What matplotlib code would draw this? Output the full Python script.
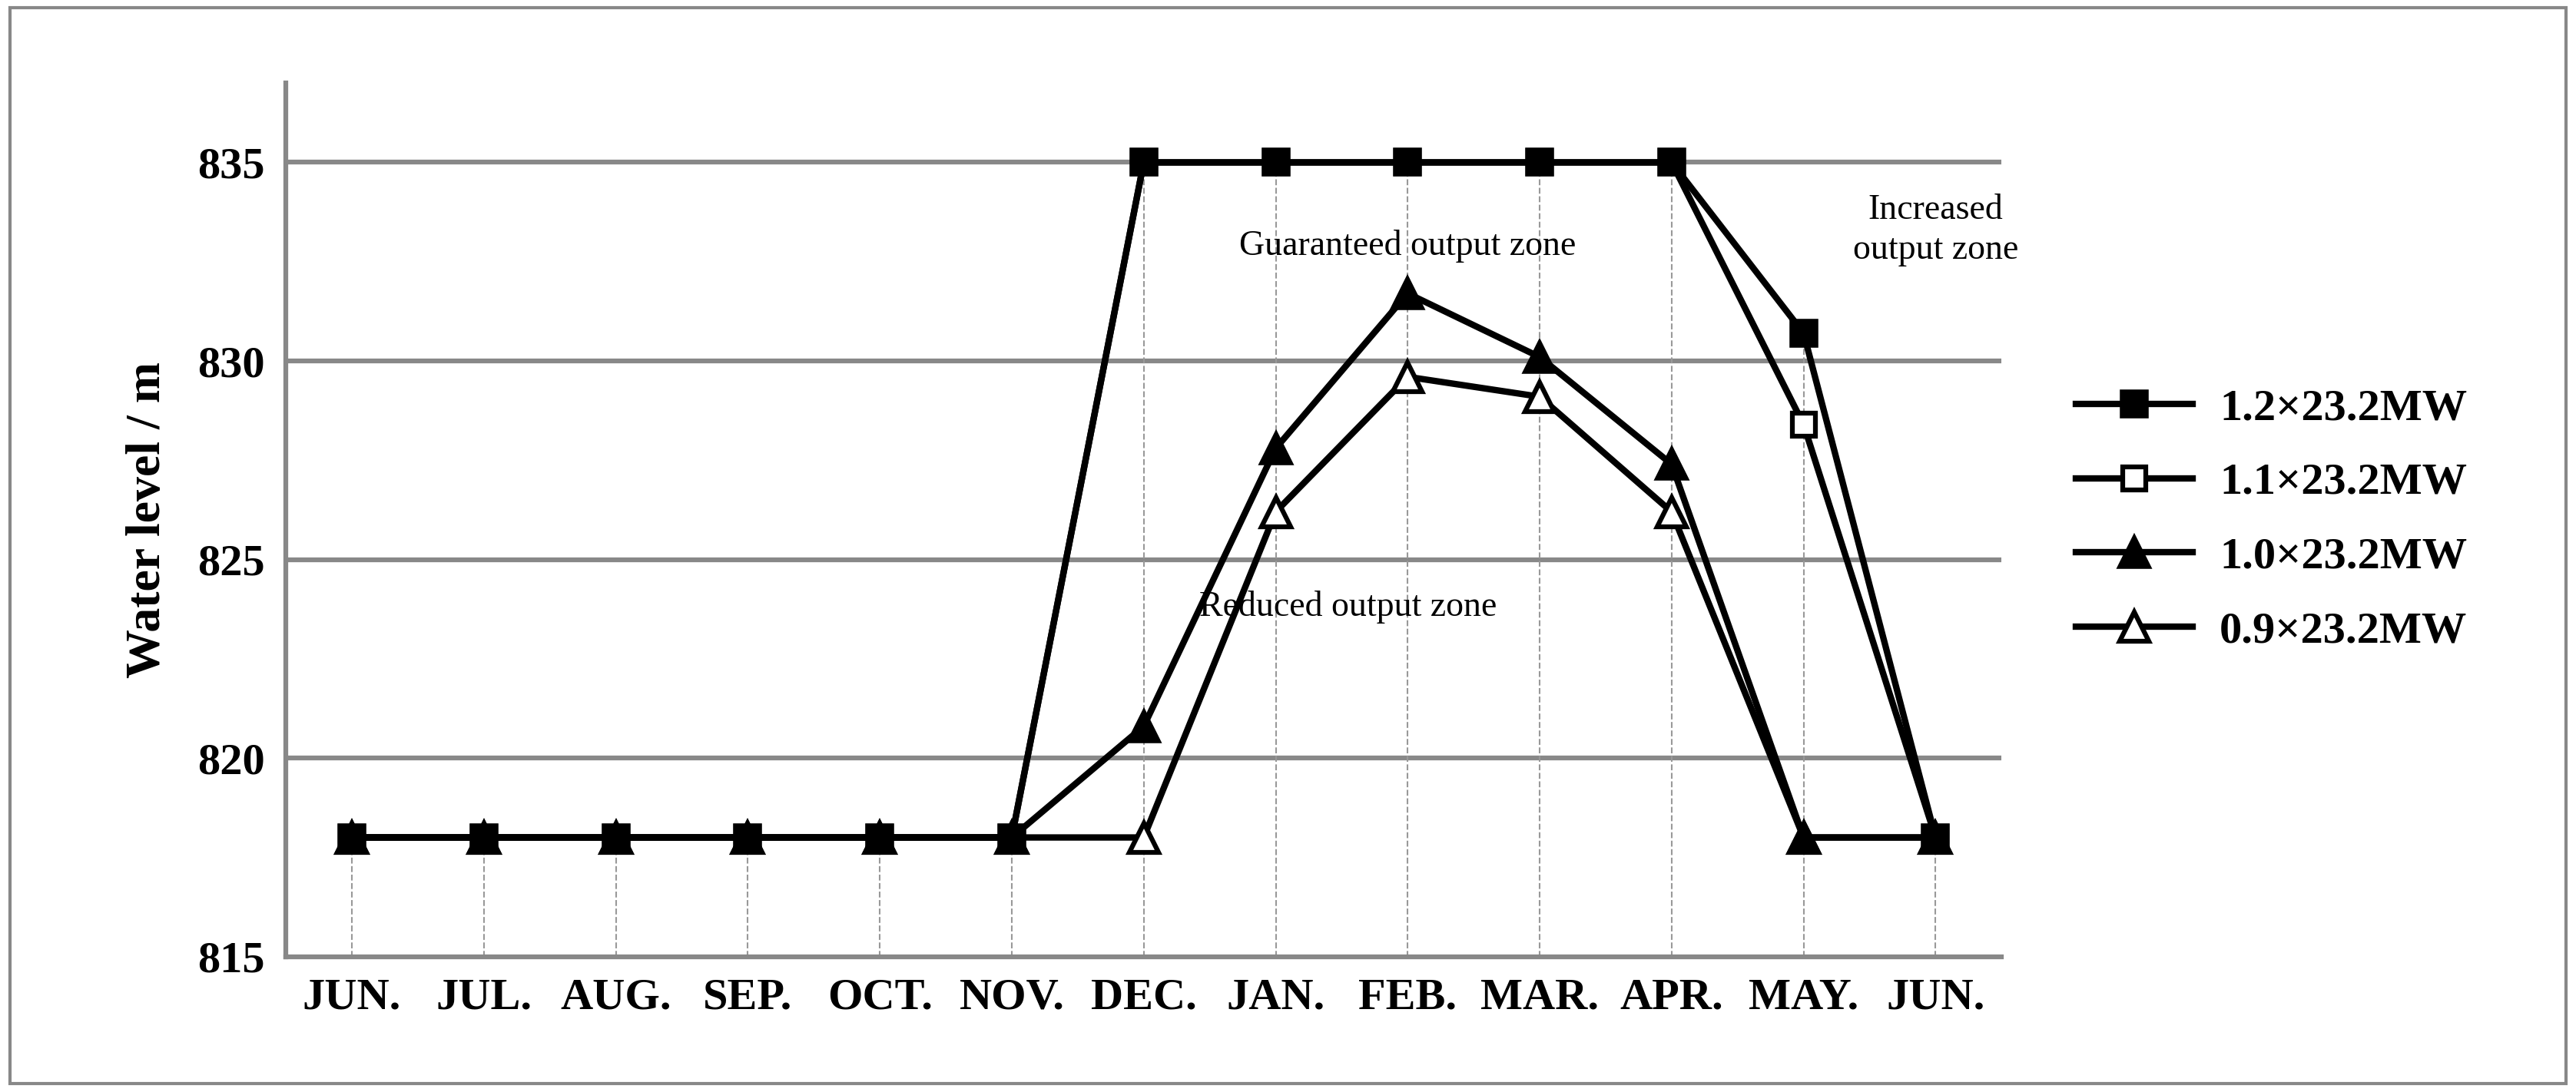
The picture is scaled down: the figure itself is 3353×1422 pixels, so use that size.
import matplotlib
matplotlib.use('Agg')
import matplotlib.pyplot as plt
from matplotlib.patches import Rectangle

plt.rcParams['font.family'] = ['Liberation Serif', 'DejaVu Serif']

months = ['JUN.', 'JUL.', 'AUG.', 'SEP.', 'OCT.', 'NOV.', 'DEC.',
          'JAN.', 'FEB.', 'MAR.', 'APR.', 'MAY.', 'JUN.']
s12 = [818, 818, 818, 818, 818, 818, 835, 835, 835, 835, 835, 830.7, 818]
s11 = [818, 818, 818, 818, 818, 818, 835, 835, 835, 835, 835, 828.4, 818]
s10 = [818, 818, 818, 818, 818, 818, 820.8, 827.8, 831.7, 830.1, 827.4, 818, 818]
s09 = [818, 818, 818, 818, 818, 818, 818, 826.2, 829.6, 829.1, 826.2, 818, 818]
labels = ['1.2×23.2MW', '1.1×23.2MW', '1.0×23.2MW', '0.9×23.2MW']

fig = plt.figure(figsize=(33.53, 14.22), dpi=100)
fig.patches.append(Rectangle((0.004, 0.008), 0.992, 0.985, transform=fig.transFigure,
                             fill=False, edgecolor='#888888', linewidth=3))
ax = fig.add_axes([0.111, 0.124, 0.666, 0.8])

x = list(range(len(months)))
for xi in x:
    top = max(s12[xi], s11[xi], s10[xi], s09[xi])
    ax.plot([xi, xi], [815, top], color='#999999', linestyle='--', linewidth=1.5, zorder=1)

for v in [820, 825, 830, 835]:
    ax.axhline(v, color='#888888', linewidth=4.5, zorder=0)

lw = 6
h09, = ax.plot(x, s09, marker='^', markerfacecolor='white', color='black', linewidth=lw,
               markersize=27, markeredgewidth=4.5, zorder=3)
h10, = ax.plot(x, s10, marker='^', color='black', linewidth=lw,
               markersize=27, markeredgewidth=4, zorder=3)
h11, = ax.plot(x, s11, marker='s', markerfacecolor='white', color='black', linewidth=lw,
               markersize=21, markeredgewidth=4.5, zorder=4)
h12, = ax.plot(x, s12, marker='s', color='black', linewidth=lw,
               markersize=23, markeredgewidth=4, zorder=5)

ax.set_xlim(-0.5, 12.5)
ax.set_ylim(815, 837)
ax.set_yticks([815, 820, 825, 830, 835])
ax.set_xticks(x)
ax.set_xticklabels(months)
ax.tick_params(axis='both', labelsize=42, length=0, pad=20)
for t in ax.get_xticklabels() + ax.get_yticklabels():
    t.set_fontweight('bold')
ax.set_ylabel('Water level / m', fontsize=46, fontweight='bold', labelpad=25)
for s in ['top', 'right']:
    ax.spines[s].set_visible(False)
for s in ['left', 'bottom']:
    ax.spines[s].set_color('#888888')
    ax.spines[s].set_linewidth(4.5)

ax.text(8.0, 832.9, 'Guaranteed output zone', fontsize=33, ha='center', va='center')
ax.text(7.55, 823.8, 'Reduced output zone', fontsize=33, ha='center', va='center')
ax.text(12.0, 833.3, 'Increased\noutput zone', fontsize=33, ha='center', va='center', linespacing=1.3)

ax.legend([h12, h11, h10, h09], labels, loc='center left', bbox_to_anchor=(1.02, 0.5),
          frameon=False, prop={'size': 42, 'weight': 'bold'}, handlelength=2.6,
          labelspacing=0.75, handletextpad=0.6)

fig.savefig('out.png', dpi=100)
